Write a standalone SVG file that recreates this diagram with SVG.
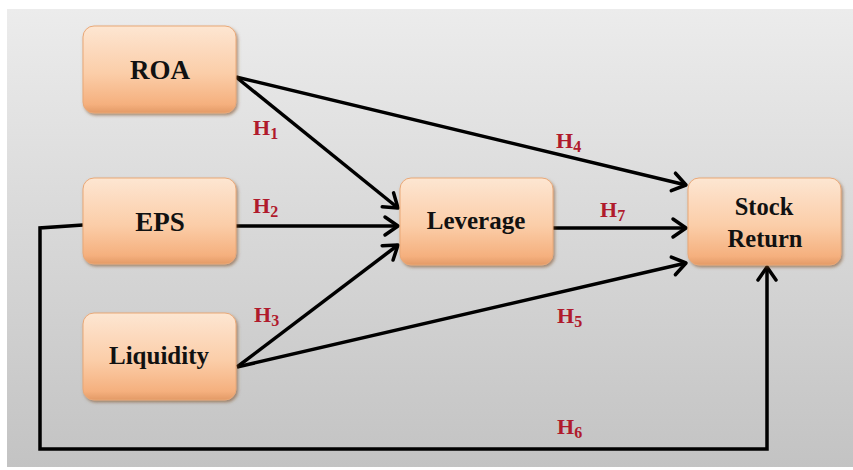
<svg xmlns="http://www.w3.org/2000/svg" width="853" height="470" viewBox="0 0 853 470">
  <defs>
    <linearGradient id="bg" x1="0" y1="0" x2="0" y2="1">
      <stop offset="0" stop-color="#ececec"/>
      <stop offset="1" stop-color="#c3c3c3"/>
    </linearGradient>
    <linearGradient id="box" x1="0" y1="0" x2="0" y2="1">
      <stop offset="0" stop-color="#fde6d2"/>
      <stop offset="0.55" stop-color="#fbcda8"/>
      <stop offset="0.9" stop-color="#f5b07e"/>
      <stop offset="1" stop-color="#e39a66"/>
    </linearGradient>
    <filter id="sh" x="-10%" y="-10%" width="125%" height="130%">
      <feDropShadow dx="1.5" dy="2" stdDeviation="1.5" flood-color="#7a4a20" flood-opacity="0.55"/>
    </filter>
    <marker id="arr" markerUnits="userSpaceOnUse" markerWidth="24" markerHeight="24" refX="15" refY="10" orient="auto" overflow="visible">
      <path d="M2,1 L15,10 L2,19" fill="none" stroke="#000" stroke-width="3.5" stroke-linecap="round" stroke-linejoin="round"/>
    </marker>
    <style>
      .node rect { fill: url(#box); stroke: #e9a877; stroke-width: 1; filter: url(#sh); }
      .lbl { font-family: "Liberation Serif", "Times New Roman", serif; font-weight: bold; fill: #111; text-anchor: middle; }
      .h { font-family: "Liberation Serif", "Times New Roman", serif; font-weight: bold; fill: #b01a2c; font-size: 22px; }
      .h tspan.s { font-size: 16px; }
      .c { fill: none; stroke: #000; stroke-width: 3.5; }
      .c.a { marker-end: url(#arr); }
    </style>
  </defs>

  <rect x="0" y="0" width="853" height="470" fill="#ffffff"/>
  <rect x="7" y="9" width="846" height="458" fill="url(#bg)"/>

  <g id="connectors">
    <line class="c a" x1="236" y1="77" x2="398" y2="208"/>
    <line class="c a" x1="236" y1="77" x2="686" y2="185"/>
    <line class="c a" x1="236" y1="226" x2="398" y2="226"/>
    <line class="c a" x1="237" y1="367" x2="398" y2="245"/>
    <line class="c a" x1="237" y1="367" x2="686" y2="263"/>
    <line class="c a" x1="553" y1="228" x2="686" y2="228"/>
    <polyline class="c a" points="83,225 40,228 40,449 767,449 767,267"/>
  </g>

  <g id="labels">
    <text class="h" x="253" y="135">H<tspan class="s" dy="4">1</tspan></text>
    <text class="h" x="253" y="213">H<tspan class="s" dy="4">2</tspan></text>
    <text class="h" x="254" y="322">H<tspan class="s" dy="4">3</tspan></text>
    <text class="h" x="556" y="148">H<tspan class="s" dy="4">4</tspan></text>
    <text class="h" x="557" y="323">H<tspan class="s" dy="4">5</tspan></text>
    <text class="h" x="557" y="434">H<tspan class="s" dy="4">6</tspan></text>
    <text class="h" x="600" y="217">H<tspan class="s" dy="4">7</tspan></text>
  </g>

  <g id="node-roa" class="node">
    <rect x="83" y="26" width="153" height="87" rx="11"/>
    <text class="lbl" x="160" y="79" font-size="27">ROA</text>
  </g>
  <g id="node-eps" class="node">
    <rect x="83" y="178" width="153" height="86" rx="11"/>
    <text class="lbl" x="160" y="231" font-size="27">EPS</text>
  </g>
  <g id="node-liquidity" class="node">
    <rect x="83" y="313" width="153" height="87" rx="11"/>
    <text class="lbl" x="159" y="364" font-size="25">Liquidity</text>
  </g>
  <g id="node-leverage" class="node">
    <rect x="400" y="178" width="153" height="87" rx="11"/>
    <text class="lbl" x="476" y="229" font-size="25">Leverage</text>
  </g>
  <g id="node-stock-return" class="node">
    <rect x="688" y="178" width="153" height="87" rx="11"/>
    <text class="lbl" x="764" y="215" font-size="24.5">Stock</text>
    <text class="lbl" x="765" y="247" font-size="24.5">Return</text>
  </g>
</svg>
